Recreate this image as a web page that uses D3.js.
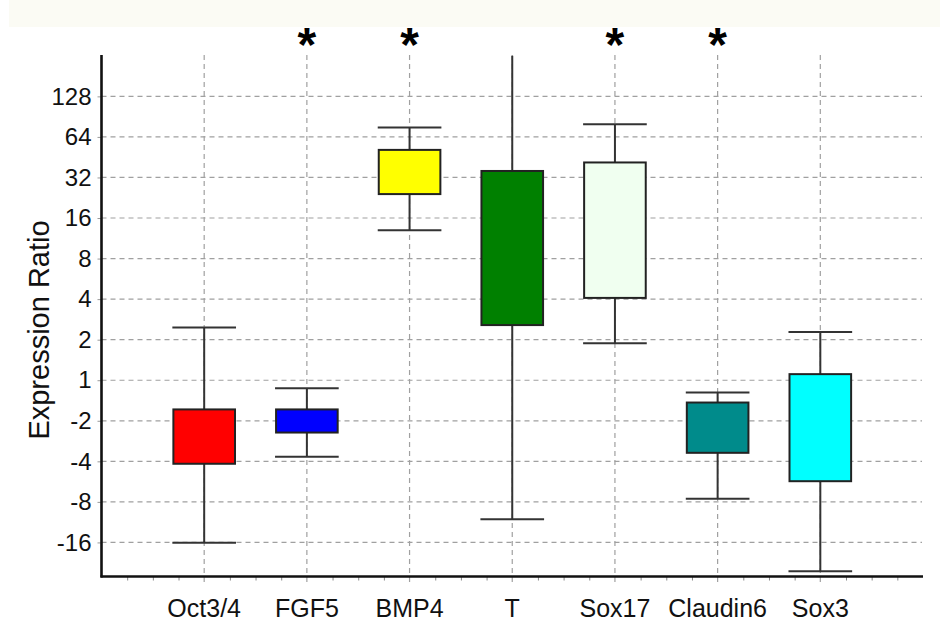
<!DOCTYPE html>
<html>
<head>
<meta charset="utf-8">
<script src="https://cdn.jsdelivr.net/npm/d3@7"></script>
<style>
  body { margin: 0; background: #fff; }
  svg { display: block; font-family: "Liberation Sans", Arial, sans-serif; }
</style>
</head>
<body>
<div id="chart"></div>
<script>
// values are in log2 units of the expression ratio (0 = 1, -1 = -2, 7 = 128)
const categories = ["Oct3/4", "FGF5", "BMP4", "T", "Sox17", "Claudin6", "Sox3"];
const whiskerMax = [1.30, -0.20, 6.23, 8.0, 6.31, -0.30, 1.19];
const boxTop     = [-0.72, -0.72, 5.68, 5.16, 5.37, -0.55, 0.15];
const boxBottom  = [-2.06, -1.29, 4.59, 1.36, 2.03, -1.79, -2.49];
const whiskerMin = [-4.01, -1.89, 3.70, -3.43, 0.91, -2.92, -4.71];
const boxColors  = ["#ff0000", "#0000ff", "#ffff00", "#008000", "#f0fff0", "#008b8b", "#00ffff"];
const significant = [false, true, true, false, true, true, false];
const yTicks = [-4, -3, -2, -1, 0, 1, 2, 3, 4, 5, 6, 7];

const width = 940, height = 629;
const plotLeft = 101.5, plotRight = 923, plotTop = 55, plotBottom = 576.5;

const svg = d3.select("#chart").append("svg")
    .attr("width", width)
    .attr("height", height);

// faint band at the top of the picture
svg.append("rect")
    .attr("x", 9).attr("y", 0)
    .attr("width", width - 9).attr("height", 27)
    .attr("fill", "#fbfbf4");

const x = d3.scaleLinear().domain([0, 8]).range([plotLeft, plotRight]);
const y = d3.scaleLinear().domain([-4.84, 8.02]).range([plotBottom, plotTop]);

const ratioLabel = k => k >= 0 ? String(2 ** k) : String(-(2 ** (-k)));

// grid
const grid = svg.append("g")
    .attr("stroke", "#a0a0a0")
    .attr("stroke-width", 1.2)
    .attr("stroke-dasharray", "5,4");

grid.selectAll(".hgrid")
    .data(yTicks)
    .enter().append("line")
    .attr("x1", plotLeft).attr("x2", plotRight - 1)
    .attr("y1", d => y(d)).attr("y2", d => y(d));

grid.selectAll(".vgrid")
    .data(categories)
    .enter().append("line")
    .attr("x1", (d, i) => x(i + 1)).attr("x2", (d, i) => x(i + 1))
    .attr("y1", plotTop).attr("y2", plotBottom + 7);

// boxes and whiskers
const boxW = 0.6;
const capW = 0.62;
const items = svg.selectAll(".item")
    .data(categories.map((name, i) => ({ name, i })))
    .enter().append("g")
    .attr("class", "item");

items.append("line")   // upper whisker
    .attr("x1", d => x(d.i + 1)).attr("x2", d => x(d.i + 1))
    .attr("y1", d => y(whiskerMax[d.i])).attr("y2", d => y(boxTop[d.i]))
    .attr("stroke", "#333").attr("stroke-width", 2);

items.append("line")   // lower whisker
    .attr("x1", d => x(d.i + 1)).attr("x2", d => x(d.i + 1))
    .attr("y1", d => y(boxBottom[d.i])).attr("y2", d => y(whiskerMin[d.i]))
    .attr("stroke", "#333").attr("stroke-width", 2);

items.filter(d => whiskerMax[d.i] < 8).append("line")   // top cap (T runs off the top)
    .attr("x1", d => x(d.i + 1 - capW / 2)).attr("x2", d => x(d.i + 1 + capW / 2))
    .attr("y1", d => y(whiskerMax[d.i])).attr("y2", d => y(whiskerMax[d.i]))
    .attr("stroke", "#333").attr("stroke-width", 2);

items.append("line")   // bottom cap
    .attr("x1", d => x(d.i + 1 - capW / 2)).attr("x2", d => x(d.i + 1 + capW / 2))
    .attr("y1", d => y(whiskerMin[d.i])).attr("y2", d => y(whiskerMin[d.i]))
    .attr("stroke", "#333").attr("stroke-width", 2);

items.append("rect")
    .attr("x", d => x(d.i + 1 - boxW / 2))
    .attr("width", x(boxW) - x(0))
    .attr("y", d => y(boxTop[d.i]))
    .attr("height", d => y(boxBottom[d.i]) - y(boxTop[d.i]))
    .attr("fill", d => boxColors[d.i])
    .attr("stroke", "#222")
    .attr("stroke-width", 2);

// significance marks
svg.selectAll(".star")
    .data(categories.map((name, i) => i).filter(i => significant[i]))
    .enter().append("text")
    .attr("x", i => x(i + 1))
    .attr("y", 61)
    .attr("text-anchor", "middle")
    .style("font-size", "48px")
    .style("font-weight", "bold")
    .text("*");

// y axis
const yAxis = svg.append("g")
    .attr("transform", `translate(${plotLeft},0)`)
    .call(d3.axisLeft(y).tickValues(yTicks).tickFormat(ratioLabel).tickSize(4).tickPadding(6));
yAxis.select(".domain").remove();
yAxis.selectAll(".tick line").attr("stroke", "#999");
yAxis.selectAll("text")
    .style("font-size", "24px")
    .style("font-family", "'Liberation Sans', Arial, sans-serif")
    .attr("fill", "#111");

// x axis minor ticks
const xMinor = svg.append("g")
    .attr("transform", `translate(0,${plotBottom})`)
    .call(d3.axisBottom(x).tickValues(d3.range(1, 32).map(d => d / 4).filter(d => d % 1 !== 0)).tickSize(4).tickFormat(""));
xMinor.select(".domain").remove();
xMinor.selectAll(".tick line").attr("stroke", "#888");

// category labels
svg.selectAll(".xlabel")
    .data(categories)
    .enter().append("text")
    .attr("x", (d, i) => x(i + 1))
    .attr("y", 617)
    .attr("text-anchor", "middle")
    .style("font-size", "25px")
    .attr("fill", "#111")
    .text(d => d);

// axis lines
svg.append("line")
    .attr("x1", plotLeft).attr("x2", plotLeft)
    .attr("y1", plotTop).attr("y2", plotBottom + 1)
    .attr("stroke", "#111").attr("stroke-width", 2.6);
svg.append("line")
    .attr("x1", plotLeft - 1).attr("x2", plotRight)
    .attr("y1", plotBottom).attr("y2", plotBottom)
    .attr("stroke", "#111").attr("stroke-width", 2.6);

// axis title
svg.append("text")
    .attr("transform", "translate(49,330) rotate(-90)")
    .attr("text-anchor", "middle")
    .style("font-size", "29px")
    .attr("fill", "#111")
    .text("Expression Ratio");
</script>
</body>
</html>
